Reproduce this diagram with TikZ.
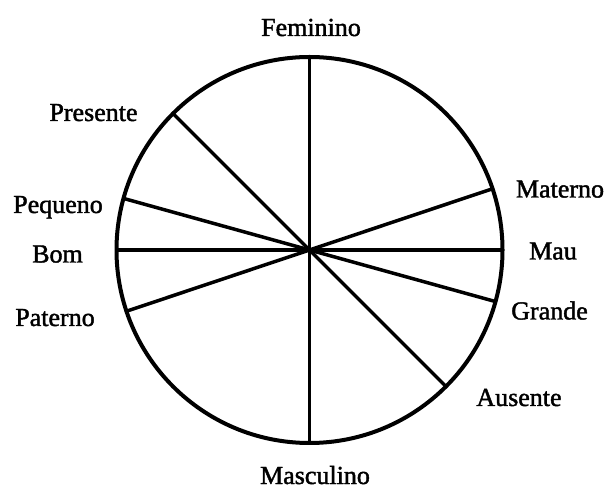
\documentclass[tikz,border=0pt]{standalone}
\usepackage{fontspec}
\setmainfont{Liberation Serif}
\newfontfamily\lblfont{Liberation Serif}[FakeBold=1.6]
\usetikzlibrary{calc}
\begin{document}
\begin{tikzpicture}[x=1pt,y=1pt,
  lbl/.style={font=\lblfont\fontsize{26}{30}\selectfont, inner sep=0pt, anchor=base},
  rim/.style={line width=4pt},
  spoke/.style={line width=3.5pt}]
\useasboundingbox (0,0) rectangle (609,489);
\coordinate (c) at (309.5,239);
\def\R{193}
\draw[rim] (c) circle (\R);
\coordinate (fem) at ($(c)+(90:\R)$);
\coordinate (mas) at ($(c)+(-90:\R)$);
\coordinate (bom) at ($(c)+(180:\R)$);
\coordinate (mau) at ($(c)+(0:\R)$);
\coordinate (pre) at ($(c)+(135:\R)$);
\coordinate (aus) at ($(c)+(-45:\R)$);
\coordinate (peq) at ($(c)+(164.5:\R)$);
\coordinate (gra) at ($(c)+(-15.5:\R)$);
\coordinate (pat) at ($(c)+(198.5:\R)$);
\coordinate (mat) at ($(c)+(18.5:\R)$);
\draw[spoke] (fem) -- (mas);
\draw[spoke] (bom) -- (mau);
\draw[spoke] (pre) -- (aus);
\draw[spoke] (peq) -- (gra);
\draw[spoke] (pat) -- (mat);
\node[lbl] (tfem) at (311,453) {Feminino};
\node[lbl] (tmas) at (315,5) {Masculino};
\node[lbl] (tpre) at (93.5,368) {Presente};
\node[lbl] (tpeq) at (58,276) {Pequeno};
\node[lbl] (tbom) at (57.5,226.5) {Bom};
\node[lbl] (tpat) at (55,163) {Paterno};
\node[lbl] (tmat) at (560,291.5) {Materno};
\node[lbl] (tmau) at (553,229.5) {Mau};
\node[lbl] (tgra) at (549.5,169.5) {Grande};
\node[lbl] (taus) at (519,83) {Ausente};
\end{tikzpicture}
\end{document}
